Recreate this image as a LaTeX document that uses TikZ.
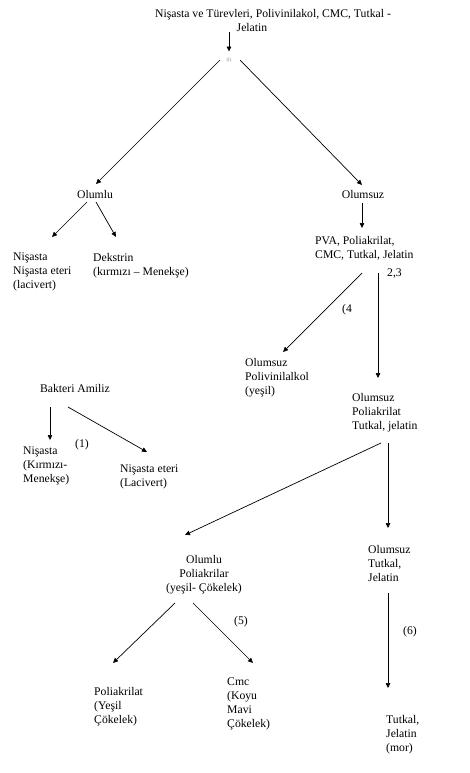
\documentclass[tikz,border=0pt]{standalone}
\usepackage{fontspec}
\setmainfont{Liberation Serif}
\usetikzlibrary{arrows.meta,calc}
\begin{document}
\begin{tikzpicture}[x=1pt,y=-1pt,
  txt/.style={inner sep=0pt, font=\fontsize{11.7}{14}\selectfont, align=left},
  lbl/.style={inner sep=0pt, font=\fontsize{11.7}{14}\selectfont},
  arr/.style={line width=0.7pt, -{Triangle[length=5pt,width=4.5pt]}}]
\useasboundingbox[fill=white] (0,0) rectangle (470,773);

\node[txt, align=center, anchor=north] (title) at (273,9) {Nişasta ve Türevleri, Polivinilakol, CMC, Tutkal -\\Jelatin\rule{42pt}{0pt}};
\node[inner sep=0pt, font=\fontsize{5}{6}\selectfont, text=gray] (I) at (229,60) {(I)};

\node[lbl] (olumlu) at (95,194) {Olumlu};
\node[lbl] (olumsuz) at (363,194) {Olumsuz};

\node[txt, anchor=north west] (nis1) at (13,253) {Nişasta\\Nişasta eteri\\(lacivert)};
\node[txt, anchor=north west] (dek) at (93,253) {Dekstrin\\(kırmızı – Menekşe)};

\node[txt, anchor=north west] (pva) at (315,236) {PVA, Poliakrilat,\\CMC, Tutkal, Jelatin};
\node[lbl, anchor=west] (l23) at (387,274) {2,3};
\node[lbl] (l4) at (347,310) {(4};

\node[txt, anchor=north west] (olpva) at (245,358) {Olumsuz\\Polivinilalkol\\(yeşil)};
\node[txt, anchor=north west] (olpoli) at (352,393) {Olumsuz\\Poliakrilat\\Tutkal, jelatin};

\node[lbl] (bakteri) at (75,388) {Bakteri Amiliz};
\node[lbl] (l1) at (82,445) {(1)};
\node[txt, anchor=north west] (nis2) at (23,447) {Nişasta\\(Kırmızı-\\Menekşe)};
\node[txt, anchor=north west] (niset) at (120,465) {Nişasta eteri\\(Lacivert)};

\node[txt, align=center, anchor=north] (olumlupoli) at (204,555) {Olumlu\\Poliakrilar\\(yeşil- Çökelek)};
\node[txt, anchor=north west] (olsuztut) at (368,545) {Olumsuz\\Tutkal,\\Jelatin};
\node[lbl] (l5) at (241,622) {(5)};
\node[lbl] (l6) at (410,632) {(6)};

\node[txt, anchor=north west] (poliak) at (94,687) {Poliakrilat\\(Yeşil\\Çökelek)};
\node[txt, anchor=north west] (cmc) at (227,678) {Cmc\\(Koyu\\Mavi\\Çökelek)};
\node[txt, anchor=north west] (tutjel) at (386,715) {Tutkal,\\Jelatin\\(mor)};

% connectors
\draw[arr] (title.south -| I) -- ($(I.north)+(0,-6)$);
\draw[arr] ($(I)+(-9,0)$) -- ($(olumlu)+(1,-10)$);
\draw[arr] ($(I)+(11,0)$) -- ($(olumsuz)+(-1,-9)$);
\draw[arr] ($(olumlu)+(-8,8)$) -- ($(nis1.north west)+(39,-16)$);
\draw[arr] ($(olumlu)+(1,8)$) -- ($(dek.north west)+(23,-16)$);
\draw[arr] ($(olumsuz)+(-1,9)$) -- ($(pva.north west)+(47,-8)$);
\draw[arr] ($(pva.north west)+(47,37)$) -- ($(olpva.north west)+(38,-6)$);
\draw[arr] ($(pva.north west)+(63,37)$) -- ($(olpoli.north west)+(26,-15)$);
\draw[arr] ($(olpoli.north west)+(29,50)$) -- ($(olumlupoli.north)+(-19,-20)$);
\draw[arr] ($(olpoli.north west)+(36,50)$) -- ($(olsuztut.north west)+(20,-17)$);
\draw[arr] ($(bakteri)+(-25,19)$) -- ($(nis2.north west)+(27,-7)$);
\draw[arr] ($(bakteri)+(-7,19)$) -- ($(niset.north west)+(27,-13)$);
\draw[arr] ($(olumlupoli.north)+(-29,48)$) -- ($(poliak.north west)+(19,-24)$);
\draw[arr] ($(olumlupoli.north)+(-11,48)$) -- ($(cmc.north west)+(26,-15)$);
\draw[arr] ($(olsuztut.north west)+(20,48)$) -- ($(tutjel.north west)+(2,-27)$);
\end{tikzpicture}
\end{document}
